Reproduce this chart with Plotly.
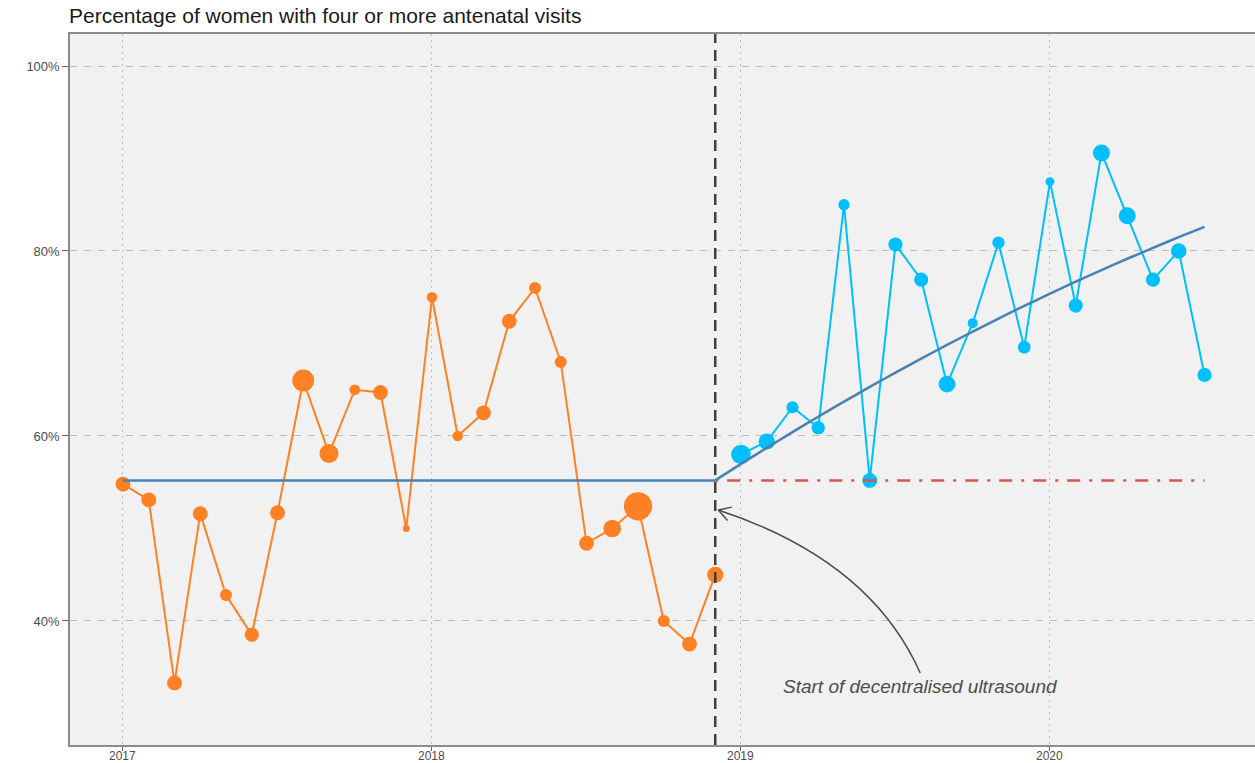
import numpy as np
import pandas as pd
import plotly.graph_objects as go

# ---- data -------------------------------------------------------------
months = pd.date_range("2017-01-01", "2020-07-01", freq="MS")
months_pre = months[:24]     # Jan 2017 - Dec 2018
months_post = months[24:]    # Jan 2019 - Jul 2020

# % of women with four or more antenatal visits, monthly
pct_pre = [54.8, 53.1, 33.3, 51.6, 42.8, 38.5, 51.7, 66.0, 58.1, 65.0, 64.7, 50.0,
           75.0, 60.0, 62.5, 72.4, 76.0, 68.0, 48.4, 50.0, 52.4, 40.0, 37.5, 45.0]
pct_post = [58.0, 59.4, 63.1, 60.9, 85.0, 55.2, 80.7, 76.9, 65.6, 72.2, 80.9, 69.6,
            87.5, 74.1, 90.6, 83.8, 76.9, 80.0, 66.6]

# number of women per month (marker size)
n_pre = [55, 55, 55, 55, 36, 50, 55, 120, 90, 28, 55, 12,
         28, 28, 55, 55, 36, 36, 55, 78, 200, 36, 55, 65]
n_post = [95, 65, 36, 45, 32, 55, 50, 50, 70, 25, 38, 40,
          20, 50, 72, 72, 50, 60, 50]

# fitted segmented model
level_pre = 55.2                       # pre-intervention mean level
trend_months = months[23:]             # Dec 2018 - Jul 2020
trend_post = [55.20, 56.98, 58.71, 60.42, 62.08, 63.71, 65.30, 66.85, 68.37, 69.84,
              71.29, 72.69, 74.06, 75.39, 76.68, 77.94, 79.16, 80.34, 81.49, 82.60]

intervention = pd.Timestamp("2018-12-01")
y_ticks = [40, 60, 80, 100]
x_ticks = [2017, 2018, 2019, 2020]


def dec_year(d):
    d = pd.DatetimeIndex(d) if not isinstance(d, pd.Timestamp) else d
    return d.year + (d.month - 1) / 12.0


x_pre = np.asarray(dec_year(months_pre))
x_post = np.asarray(dec_year(months_post))
x_trend = np.asarray(dec_year(trend_months))
x_int = dec_year(intervention)

# ---- layout geometry ----------------------------------------------------
W, H = 1255, 763
M = dict(l=70, r=0, t=34, b=18)
X_RANGE = [2016.8285, 2020.6635]
Y_RANGE = [26.59, 103.46]
px_x = (X_RANGE[1] - X_RANGE[0]) / (W - M["l"] - M["r"])
px_y = (Y_RANGE[1] - Y_RANGE[0]) / (H - M["t"] - M["b"])

ORANGE = "#FF8124"
SKY = "#00BFFF"
STEEL = "#4682B4"
RED = "#D9534F"
FONT = "Liberation Sans, Arial, sans-serif"

fig = go.Figure()

fig.add_trace(go.Scatter(
    x=x_pre, y=pct_pre, mode="lines+markers",
    line=dict(color=ORANGE, width=2),
    marker=dict(color=ORANGE, size=n_pre, sizemode="area", sizeref=0.5, sizemin=3,
                opacity=1, line=dict(width=0)),
    opacity=1, hoverinfo="skip", showlegend=False,
))
fig.add_trace(go.Scatter(
    x=x_post, y=pct_post, mode="lines+markers",
    line=dict(color=SKY, width=2),
    marker=dict(color=SKY, size=n_post, sizemode="area", sizeref=0.5, sizemin=3,
                opacity=1, line=dict(width=0)),
    opacity=1, hoverinfo="skip", showlegend=False,
))

# counterfactual (pre-intervention level carried forward)
fig.add_trace(go.Scatter(
    x=[x_trend[0], x_trend[-1]], y=[level_pre, level_pre], mode="lines",
    line=dict(color=RED, width=2.5, dash="3px,9px,13px,9px"),
    hoverinfo="skip", showlegend=False,
))
# pre-intervention level
fig.add_trace(go.Scatter(
    x=[x_pre[0], x_pre[-1]], y=[level_pre, level_pre], mode="lines",
    line=dict(color=STEEL, width=2.5),
    hoverinfo="skip", showlegend=False,
))
# post-intervention fitted trend
fig.add_trace(go.Scatter(
    x=x_trend, y=trend_post, mode="lines",
    line=dict(color=STEEL, width=2.5, shape="spline", smoothing=0.6),
    hoverinfo="skip", showlegend=False,
))

# intervention marker line
fig.add_shape(type="line", x0=x_int, x1=x_int, y0=0, y1=1, yref="paper",
              line=dict(color="#404040", width=2.5, dash="11px,7px"), layer="above")

# curved arrow pointing to the intervention line
tip = (x_int + 3 * px_x, 52.0)
ctrl = (tip[0] + 152 * px_x, tip[1] - 50 * px_y)
tail = (tip[0] + 202 * px_x, tip[1] - 163 * px_y)
fig.add_shape(type="path",
              path=f"M {tail[0]},{tail[1]} Q {ctrl[0]},{ctrl[1]} {tip[0]},{tip[1]}",
              line=dict(color="#4D4D4D", width=1.5), layer="above")
ang = np.arctan2(50, 152)
for s in (+1, -1):
    a = ang + s * np.radians(30)
    ex = tip[0] + 14 * np.cos(a) * px_x
    ey = tip[1] - 14 * np.sin(a) * px_y
    fig.add_shape(type="line", x0=tip[0], y0=tip[1], x1=ex, y1=ey,
                  line=dict(color="#4D4D4D", width=1.5), layer="above")

fig.add_annotation(x=tail[0], y=tail[1] - 14 * px_y, xref="x", yref="y",
                   text="<i>Start of decentralised ultrasound</i>", showarrow=False,
                   font=dict(family=FONT, size=19, color="#4D4D4D"),
                   xanchor="center", yanchor="middle")

# year labels under the x axis (set tight against the bottom edge)
for yr in x_ticks:
    fig.add_annotation(x=yr, xref="x", y=0, yref="paper", yanchor="top",
                       yshift=-3, text=str(yr), showarrow=False, borderpad=0,
                       font=dict(family=FONT, size=12, color="#4D4D4D"))

fig.update_layout(
    width=W, height=H, margin=M,
    paper_bgcolor="white", plot_bgcolor="#F1F1F1",
    font=dict(family=FONT, color="#4D4D4D", size=13),
    title=dict(text="Percentage of women with four or more antenatal visits",
               x=69 / W, xref="container", xanchor="left",
               y=1 - 16 / H, yref="container", yanchor="middle",
               font=dict(family=FONT, size=21, color="#1A1A1A")),
    xaxis=dict(range=X_RANGE, tickvals=x_ticks, showticklabels=False,
               showgrid=True, gridcolor="#BDBDBD", gridwidth=1, griddash="2px,4px",
               zeroline=False, showline=True, linecolor="#8C8C8C", linewidth=1.5,
               mirror=True, ticks="outside", ticklen=4, tickcolor="#666666",
               automargin=False),
    yaxis=dict(range=Y_RANGE, tickvals=y_ticks, ticktext=[f"{v}%" for v in y_ticks],
               showgrid=True, gridcolor="#BDBDBD", gridwidth=1, griddash="7px,7px",
               zeroline=False, showline=True, linecolor="#8C8C8C", linewidth=1.5,
               ticks="outside", ticklen=6, tickcolor="#666666",
               automargin=False, tickfont=dict(family=FONT, size=13, color="#4D4D4D")),
)

fig.write_html("out.html")
